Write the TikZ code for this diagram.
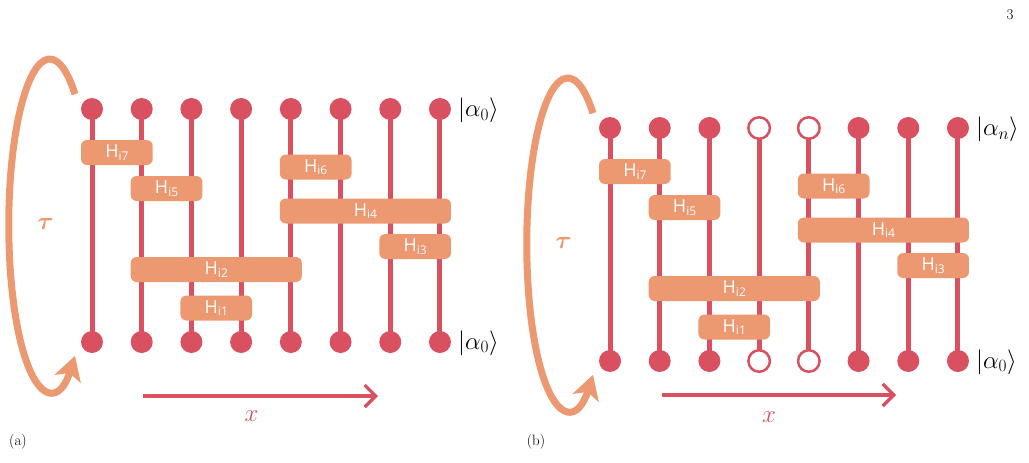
\documentclass[tikz,border=0pt]{standalone}
\usepackage{bm}
\usepackage[no-math]{fontspec}
\usetikzlibrary{arrows.meta}
\newfontfamily\gatefont{Open Sans}

\definecolor{qred}{RGB}{217,80,97}
\definecolor{qorange}{RGB}{236,152,113}

\pgfdeclarelayer{background}
\pgfsetlayers{background,main}

\tikzset{
  wire/.style={draw=qred, line width=5pt},
  filleddot/.style={circle, fill=qred, inner sep=0pt, minimum size=22pt},
  hollowdot/.style={circle, draw=qred, fill=white, line width=2.5pt, inner sep=0pt, minimum size=21.5pt},
  gate/.style={rectangle, rounded corners=6pt, fill=qorange, text=white, inner sep=0pt,
    minimum height=25pt, font=\gatefont\fontsize{18}{18}\selectfont},
  gate2/.style={gate, minimum width=71.71pt},
  gate4/.style={gate, minimum width=171.13pt},
  ket/.style={anchor=west, inner sep=0pt, font=\fontsize{24}{24}\selectfont},
  cyclearrow/.style={draw=qorange, line width=7pt, -{Stealth[length=24pt,width=27pt,inset=6pt]}},
  xaxis/.style={draw=qred, line width=3.2pt, -{Straight Barb[length=11pt,width=22pt]}},
  caption/.style={inner sep=0pt, font=\fontsize{15}{15}\selectfont},
  taulabel/.style={text=qorange, inner sep=0pt, font=\fontsize{41}{41}\selectfont},
  xlabel/.style={text=qred, inner sep=0pt, font=\fontsize{32}{32}\selectfont},
}

% subscript of a gate label
\newcommand\gsub[1]{\raisebox{-2.5pt}{\fontsize{12}{12}\selectfont #1}}

% one wire with its two end dots: #1 prefix, #2 column, #3 dot style
\newcommand\qwire[3]{%
  \pgfmathsetmacro\wx{92+(#2-1)*49.71}%
  \node[#3] (#1t#2) at (\wx,109) {};
  \node[#3] (#1b#2) at (\wx,342) {};
  \begin{pgfonlayer}{background}
    \draw[wire] (#1t#2.center) -- (#1b#2.center);
  \end{pgfonlayer}}

\begin{document}
\begin{tikzpicture}[x=1pt, y=-1pt]
  \useasboundingbox (0,0) rectangle (1029,463);

  \node[caption] (pagenum) at (1010,15) {3};

  % panel (a)
  \qwire{a}{1}{filleddot}
  \qwire{a}{2}{filleddot}
  \qwire{a}{3}{filleddot}
  \qwire{a}{4}{filleddot}
  \qwire{a}{5}{filleddot}
  \qwire{a}{6}{filleddot}
  \qwire{a}{7}{filleddot}
  \qwire{a}{8}{filleddot}
  \node[gate2] (ag7) at (116.86,152.5) {H\gsub{i7}};
  \node[gate2] (ag5) at (166.57,188.5) {H\gsub{i5}};
  \node[gate2] (ag6) at (315.70,167) {H\gsub{i6}};
  \node[gate4] (ag4) at (365.40,211) {H\gsub{i4}};
  \node[gate2] (ag3) at (415.11,246.5) {H\gsub{i3}};
  \node[gate4] (ag2) at (216.28,269.5) {H\gsub{i2}};
  \node[gate2] (ag1) at (216.28,308) {H\gsub{i1}};
  \node[ket] (aktop) at (458,110.5) {$|\alpha_0\rangle$};
  \node[ket] (akbot) at (458,343) {$|\alpha_0\rangle$};
  \coordinate (aloop) at (75,94.2);
  \draw[cyclearrow] (aloop) arc[start angle=52, end angle=308, x radius=41pt, y radius=166pt];
  \node[taulabel] (atau) at (45.5,223.5) {$\bm{\tau}$};
  \coordinate (axs) at (143,396);
  \coordinate (axe) at (378,396);
  \draw[xaxis] (axs) -- (axe);
  \node[xlabel] (axlab) at (251.5,416) {$x$};
  \node[caption] (alab) at (18,442) {(a)};

  % panel (b)
  \begin{scope}[shift={(518,19)}]
    \qwire{b}{1}{filleddot}
    \qwire{b}{2}{filleddot}
    \qwire{b}{3}{filleddot}
    \qwire{b}{4}{hollowdot}
    \qwire{b}{5}{hollowdot}
    \qwire{b}{6}{filleddot}
    \qwire{b}{7}{filleddot}
    \qwire{b}{8}{filleddot}
    \node[gate2] (bg7) at (116.86,152.5) {H\gsub{i7}};
    \node[gate2] (bg5) at (166.57,188.5) {H\gsub{i5}};
    \node[gate2] (bg6) at (315.70,167) {H\gsub{i6}};
    \node[gate4] (bg4) at (365.40,211) {H\gsub{i4}};
    \node[gate2] (bg3) at (415.11,246.5) {H\gsub{i3}};
    \node[gate4] (bg2) at (216.28,269.5) {H\gsub{i2}};
    \node[gate2] (bg1) at (216.28,308) {H\gsub{i1}};
    \node[ket] (bktop) at (458,110.5) {$|\alpha_n\rangle$};
    \node[ket] (bkbot) at (458,343) {$|\alpha_0\rangle$};
    \coordinate (bloop) at (75,94.2);
    \draw[cyclearrow] (bloop) arc[start angle=52, end angle=308, x radius=41pt, y radius=166pt];
    \node[taulabel] (btau) at (45.5,223.5) {$\bm{\tau}$};
  \end{scope}
  \coordinate (bxs) at (662,395);
  \coordinate (bxe) at (896,395);
  \draw[xaxis] (bxs) -- (bxe);
  \node[xlabel] (bxlab) at (769,417) {$x$};
  \node[caption] (blab) at (536,442) {(b)};
\end{tikzpicture}
\end{document}
